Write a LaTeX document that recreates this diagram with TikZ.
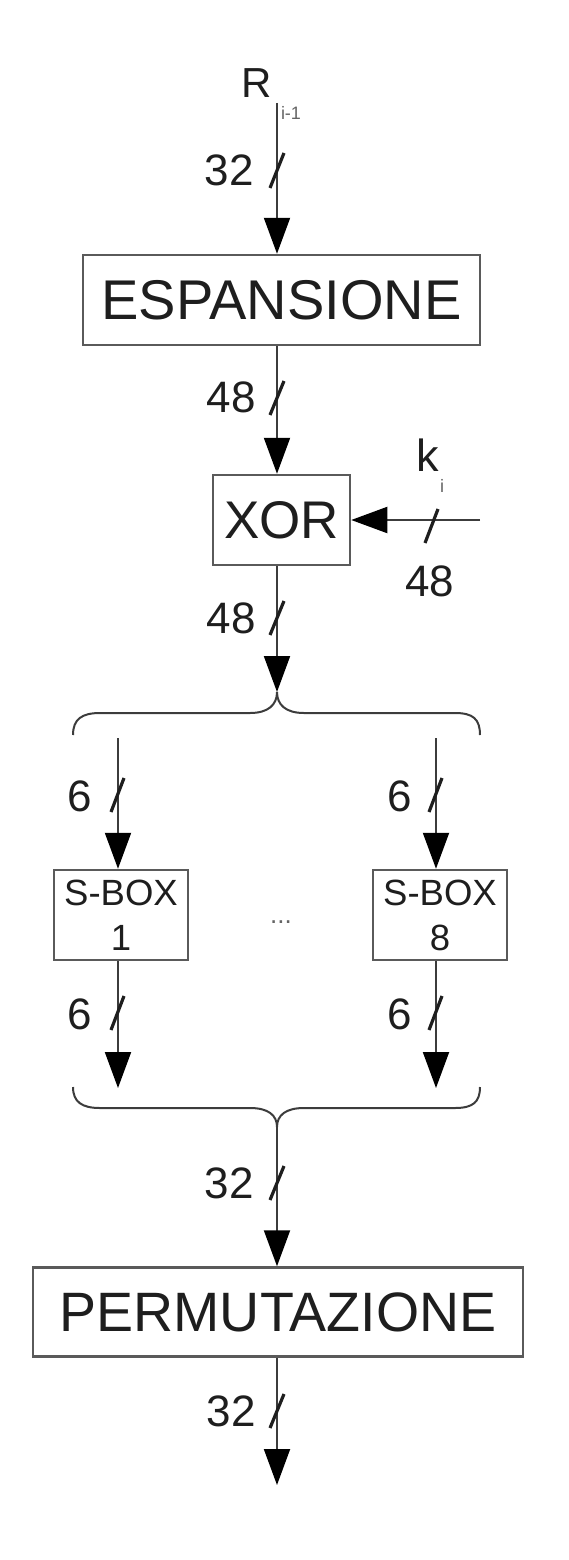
\documentclass[tikz,border=0pt]{standalone}
\usepackage{fontspec}
\setmainfont{Liberation Sans}
\usetikzlibrary{arrows.meta}
\definecolor{linec}{RGB}{60,60,60}
\definecolor{boxc}{RGB}{90,90,90}
\definecolor{textc}{RGB}{30,30,30}
\definecolor{subc}{RGB}{100,100,100}
\begin{document}
\begin{tikzpicture}[x=1pt,y=-1pt,
  wire/.style={draw=linec, line width=2pt, -{Triangle[length=36pt,width=26pt,black]}},
  slashmark/.style={draw=textc, line width=3.2pt},
  bigbox/.style={draw=boxc, line width=2.5pt, fill=white, inner sep=0pt, text depth=0pt, text=textc,
    font=\fontsize{55}{60}\selectfont},
  sbox/.style={draw=boxc, line width=2.5pt, fill=white, inner sep=0pt, text=textc, align=center,
    minimum width=134pt, minimum height=90pt, font=\fontsize{36.5}{45}\selectfont},
  lbl/.style={inner sep=0pt, text depth=0pt, text=textc, font=\fontsize{44}{50}\selectfont},
  sublbl/.style={inner sep=0pt, text depth=0pt, text=subc, font=\fontsize{18}{20}\selectfont},
  bracec/.style={draw=linec, line width=2pt}
]
\useasboundingbox (0,0) rectangle (568,1560);

% nodes
\node[bigbox, minimum width=397pt, minimum height=90pt, font=\fontsize{56}{60}\selectfont] (esp) at (281.5,300) {ESPANSIONE};
\node[bigbox, minimum width=137pt, minimum height=90pt, font=\fontsize{53}{60}\selectfont] (xor) at (281.5,520) {XOR};
\node[sbox] (sb1) at (121,915) {S-BOX\\1};
\node[sbox] (sb8) at (440,915) {S-BOX\\8};
\node[bigbox, minimum width=490pt, minimum height=89pt, font=\fontsize{55.5}{60}\selectfont] (perm) at (278,1312) {PERMUTAZIONE};

\node[inner sep=0pt, text=subc, font=\fontsize{26}{30}\selectfont] (dots) at (281,922) {...};

% text labels
\node[lbl, font=\fontsize{42}{50}\selectfont] (R) at (257,83) {R};
\node[sublbl] (Rsub) at (291,113) {i-1};
\node[lbl, font=\fontsize{45}{50}\selectfont] (k) at (428,455) {k};
\node[sublbl] (ksub) at (442,486) {i};

% coordinates
\coordinate (ctop) at (277,103);
\coordinate (kin) at (480,520);
\coordinate (btip) at (277,692);
\coordinate (b1top) at (118,738);
\coordinate (b8top) at (436,738);
\coordinate (b1bot) at (118,1088);
\coordinate (b8bot) at (436,1088);
\coordinate (ltip) at (277,1127);
\coordinate (outend) at (277,1485);

% connectors
\draw[wire] (ctop) -- (ctop |- esp.north);
\draw[wire] (esp.south -| ctop) -- (xor.north -| ctop);
\draw[wire] (kin) -- (xor.east);
\draw[wire] (xor.south -| ctop) -- (btip);
\draw[wire] (b1top) -- (b1top |- sb1.north);
\draw[wire] (b8top) -- (b8top |- sb8.north);
\draw[wire] (sb1.south -| b1top) -- (b1bot);
\draw[wire] (sb8.south -| b8top) -- (b8bot);
\draw[wire] (ltip) -- (ltip |- perm.north);
\draw[wire] (perm.south -| ctop) -- (outend);

% braces
\draw[bracec] (73,735) .. controls (73,719) and (82,713) .. (100,713) -- (250,713)
  .. controls (268,713) and (277,705) .. (btip)
  .. controls (277,705) and (286,713) .. (304,713) -- (455,713)
  .. controls (473,713) and (480,719) .. (480,735);
\draw[bracec] (73,1087) .. controls (73,1102) and (82,1108) .. (100,1108) -- (250,1108)
  .. controls (268,1108) and (277,1115) .. (ltip)
  .. controls (277,1115) and (286,1108) .. (304,1108) -- (455,1108)
  .. controls (473,1108) and (480,1102) .. (480,1087);

% bus width slashes and labels
\draw[slashmark] (270,188) -- (284,153);
\node[lbl, anchor=east] (l1) at (254,170) {32};
\draw[slashmark] (270,415) -- (284,381);
\node[lbl, anchor=east] (l2) at (256,397) {48};
\draw[slashmark] (270,635) -- (284,601);
\node[lbl, anchor=east] (l3) at (256,618) {48};
\draw[slashmark] (425,543) -- (438,509);
\node[lbl] (l4) at (430,581) {48};
\draw[slashmark] (111,812) -- (124,778);
\node[lbl] (l5) at (80,796) {6};
\draw[slashmark] (429,812) -- (442,778);
\node[lbl] (l6) at (400,796) {6};
\draw[slashmark] (111,1030) -- (124,996);
\node[lbl] (l7) at (80,1014) {6};
\draw[slashmark] (429,1030) -- (442,996);
\node[lbl] (l8) at (400,1014) {6};
\draw[slashmark] (270,1200) -- (284,1166);
\node[lbl, anchor=east] (l9) at (254,1183) {32};
\draw[slashmark] (270,1428) -- (284,1394);
\node[lbl, anchor=east] (l10) at (256,1411) {32};
\end{tikzpicture}
\end{document}
